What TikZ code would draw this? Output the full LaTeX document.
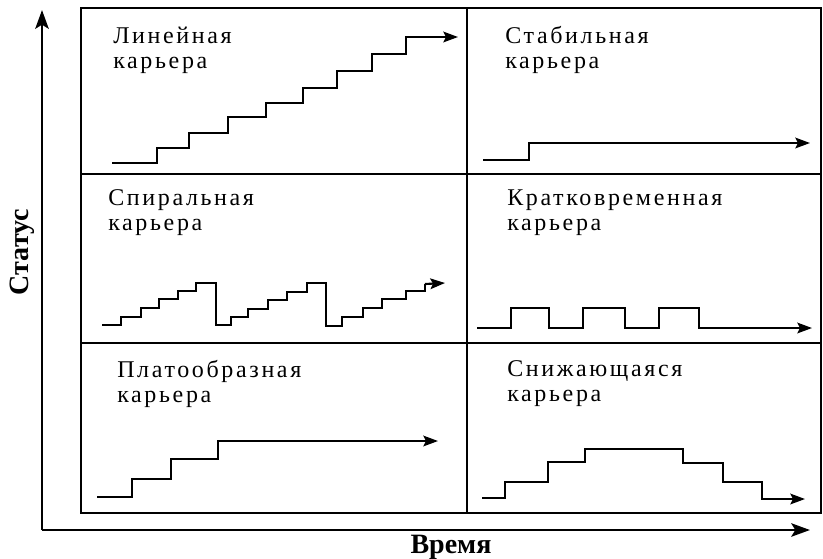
\documentclass[tikz,border=0pt]{standalone}
\usepackage{fontspec}
\setmainfont{Liberation Serif}
\newfontfamily\lblfont[LetterSpace=11]{Liberation Serif}
\usepackage{tikz}
\usetikzlibrary{arrows.meta}

\begin{document}
\begin{tikzpicture}[x=0.75pt, y=-0.75pt,
    curve/.style={line width=1.6pt, line join=miter},
    tip/.style={-{Stealth[length=11pt, width=8pt, inset=2pt]}},
    lbl/.style={anchor=north west, inner sep=0pt, align=left,
        font=\lblfont\fontsize{18}{18.75}\selectfont},
    axlbl/.style={inner sep=0pt, font=\bfseries\fontsize{21}{22}\selectfont}]
    \useasboundingbox (0,0) rectangle (823,558);

    % Axes
    \draw[line width=2.2pt, -{Stealth[length=14pt, width=10pt, inset=3pt]}] (42,530) -- (42,10);
    \draw[line width=2.2pt, -{Stealth[length=14pt, width=10pt, inset=3pt]}] (42,530) -- (810,530);
    \node[axlbl, rotate=90] (status) at (22,252) {Статус};
    \node[axlbl] (time) at (451,547) {Время};

    % Grid
    \draw[line width=1.6pt] (81,8) rectangle (821,513);
    \draw[line width=1.6pt] (467,8) -- (467,513);
    \draw[line width=1.6pt] (81,174) -- (821,174);
    \draw[line width=1.6pt] (81,343) -- (821,343);

    % Labels
    \node[lbl] (linear) at (113,27) {Линейная\\карьера};
    \node[lbl] (stable) at (505,26) {Стабильная\\карьера};
    \node[lbl] (spiral) at (108,189) {Спиральная\\карьера};
    \node[lbl] (short) at (507,190) {Кратковременная\\карьера};
    \node[lbl] (plateau) at (117,360) {Платообразная\\карьера};
    \node[lbl] (decline) at (507,360) {Снижающаяся\\карьера};

    % Linear career
    \draw[curve, tip] (112,163) -| (157,148) -| (189,133) -| (228,117) -| (266,103)
        -| (303,88) -| (337,71) -| (372,54) -| (406,37) -- (458,37);

    % Stable career
    \draw[curve, tip] (483,160) -| (529,143) -- (810,143);

    % Spiral career
    \draw[curve] (102,325) -| (121,317) -| (141,308) -| (159,299) -| (178,291) -| (196,283)
        -| (216,325) -| (231,317) -| (248,309) -| (268,300) -| (287,292) -| (307,283)
        -| (326,326) -| (342,317) -| (363,308) -| (382,299) -| (406,291) -| (425,284);
    \draw[curve, tip] (425,284) -- (445,283);

    % Short-term career
    \draw[curve, tip] (477,328) -| (511,308) -| (549,328) -| (583,308) -| (625,328)
        -| (659,308) -| (699,328) -- (812,328);

    % Plateau career
    \draw[curve, tip] (97,497) -| (132,479) -| (171,459) -| (218,441) -- (438,441);

    % Declining career
    \draw[curve, tip] (482,498) -| (505,482) -| (548,462) -| (585,449) -| (683,463)
        -| (723,482) -| (762,499) -- (805,499);
\end{tikzpicture}
\end{document}
